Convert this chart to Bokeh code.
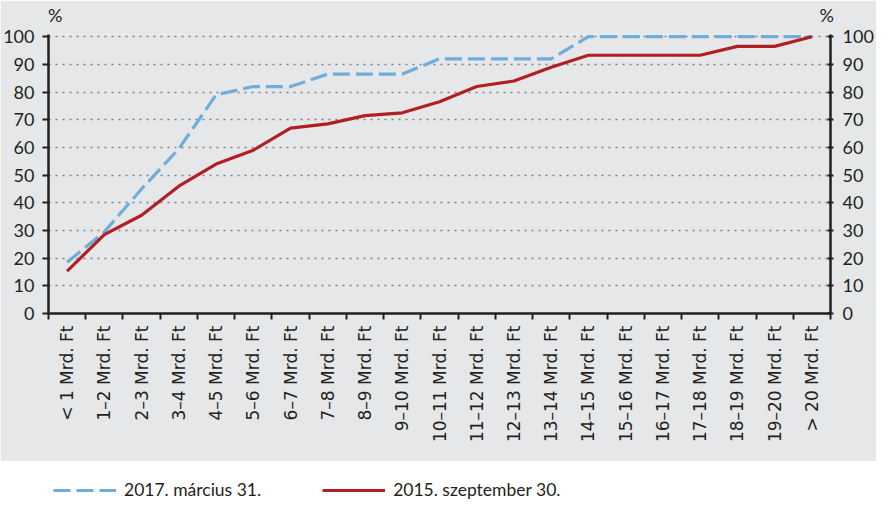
import math
from bokeh.plotting import figure
from bokeh.layouts import column
from bokeh.models import Range1d, FixedTicker, LinearAxis, Legend, LegendItem
from bokeh.embed import file_html
from bokeh.resources import INLINE

categories = ["< 1 Mrd. Ft", "1–2 Mrd. Ft", "2–3 Mrd. Ft", "3–4 Mrd. Ft", "4–5 Mrd. Ft",
              "5–6 Mrd. Ft", "6–7 Mrd. Ft", "7–8 Mrd. Ft", "8–9 Mrd. Ft", "9–10 Mrd. Ft",
              "10–11 Mrd. Ft", "11–12 Mrd. Ft", "12–13 Mrd. Ft", "13–14 Mrd. Ft", "14–15 Mrd. Ft",
              "15–16 Mrd. Ft", "16–17 Mrd. Ft", "17–18 Mrd. Ft", "18–19 Mrd. Ft", "19–20 Mrd. Ft",
              "> 20 Mrd. Ft"]
series_2017 = [18.5, 29.5, 45, 59.5, 79, 82, 82, 86.5, 86.5, 86.5, 92, 92, 92, 92,
               100, 100, 100, 100, 100, 100, 100]
series_2015 = [15.3, 28.5, 35.5, 46, 54, 59, 67, 68.5, 71.5, 72.5, 76.5, 82, 84, 89,
               93.3, 93.3, 93.3, 93.3, 96.5, 96.5, 100]
y_ticks = [0, 10, 20, 30, 40, 50, 60, 70, 80, 90, 100]
unit_label = "%"
label_2017 = "2017. március 31."
label_2015 = "2015. szeptember 30."

BG = "#E6E7E8"
INK = "#231F20"
BLUE = "#6FAEDB"
RED = "#B01F24"
NUM_FONT = "Lato"

n = len(categories)
centers = [i + 0.5 for i in range(n)]
bounds = [float(i) for i in range(n + 1)]

p = figure(frame_width=782, frame_height=279, output_backend="svg", toolbar_location=None,
           x_range=Range1d(0, n), y_range=Range1d(0, 100.8),
           min_border_left=48, min_border_right=43, min_border_top=25, min_border_bottom=148)
p.background_fill_color = BG
p.border_fill_color = BG
p.outline_line_color = None

# grid
p.xgrid.visible = False
p.ygrid.ticker = FixedTicker(ticks=y_ticks)
p.ygrid.grid_line_color = "#808080"
p.ygrid.grid_line_dash = "2 5"
p.ygrid.grid_line_width = 1.3

# x axis
xa = p.xaxis[0]
xa.ticker = FixedTicker(ticks=centers, minor_ticks=bounds)
xa.major_label_overrides = {c: lab for c, lab in zip(centers, categories)}
xa.major_label_orientation = math.pi / 2
xa.major_tick_in = 0
xa.major_tick_out = 0
xa.minor_tick_in = 0
xa.minor_tick_out = 6
xa.minor_tick_line_color = INK
xa.minor_tick_line_width = 2
xa.axis_line_color = INK
xa.axis_line_width = 2.5
xa.major_label_text_font = "DejaVu Sans"
xa.major_label_text_font_size = "17px"
xa.major_label_text_color = INK
xa.major_label_standoff = 6

# left y axis
ya = p.yaxis[0]
ya.ticker = FixedTicker(ticks=y_ticks)
ya.minor_tick_line_color = None
ya.major_tick_in = 0
ya.major_tick_out = 6
ya.major_tick_line_color = INK
ya.major_tick_line_width = 2
ya.axis_line_color = INK
ya.axis_line_width = 2.5
ya.major_label_text_font = NUM_FONT
ya.major_label_text_font_size = "18px"
ya.major_label_text_color = INK
ya.major_label_standoff = 8

# right y axis
ra = LinearAxis(ticker=FixedTicker(ticks=y_ticks))
ra.minor_tick_line_color = None
ra.major_tick_in = 3
ra.major_tick_out = 3
ra.major_tick_line_color = INK
ra.major_tick_line_width = 2
ra.axis_line_color = INK
ra.axis_line_width = 2.5
ra.major_label_text_font = NUM_FONT
ra.major_label_text_font_size = "18px"
ra.major_label_text_color = INK
ra.major_label_standoff = 9
p.add_layout(ra, "right")

# "%" unit markers above both value axes (an invisible top axis carries them)
inset_l = 0.18
inset_r = 0.1
ta = LinearAxis(ticker=FixedTicker(ticks=[inset_l, n - inset_r]))
ta.major_label_overrides = {inset_l: unit_label, n - inset_r: unit_label}
ta.axis_line_color = None
ta.major_tick_line_color = None
ta.minor_tick_line_color = None
ta.major_label_text_font = NUM_FONT
ta.major_label_text_font_size = "18px"
ta.major_label_text_color = INK
ta.major_label_standoff = 3
p.add_layout(ta, "above")

# lines
p.line(centers, series_2017, line_color=BLUE, line_width=3.2, line_dash="17 6")
p.line(centers, series_2015, line_color=RED, line_width=3.2)

# legend strip as a separate small, fully transparent figure
lf = figure(width=873, height=41, output_backend="svg", toolbar_location=None,
            x_axis_type=None, y_axis_type=None,
            x_range=Range1d(0, n), y_range=Range1d(1000, 1001),
            min_border=0, min_border_left=0, min_border_right=0,
            min_border_top=0, min_border_bottom=0)
lf.grid.visible = False
lf.background_fill_color = None
lf.border_fill_color = None
lf.outline_line_color = None
# one-point stand-ins (outside the strip's view) that only supply the legend swatches
l17 = lf.line(centers[:1], series_2017[:1], line_color=BLUE, line_width=3.2, line_dash="17 6")
l15 = lf.line(centers[:1], series_2015[:1], line_color=RED, line_width=3.2)
legend = Legend(items=[LegendItem(label=label_2017, renderers=[l17]),
                       LegendItem(label=label_2015, renderers=[l15])],
                location=(5, 2), orientation="horizontal", padding=0, margin=0,
                spacing=61, glyph_width=63, glyph_height=18, label_standoff=8,
                border_line_color=None, background_fill_alpha=0,
                label_text_font=NUM_FONT, label_text_font_size="17.5px", label_text_color=INK)
lf.add_layout(legend, "center")

layout = column(p, lf, spacing=0)
html = file_html(layout, INLINE)
html = html.replace("<body>", '<body style="background:#E6E7E8">', 1)
open("out.html", "w").write(html)
